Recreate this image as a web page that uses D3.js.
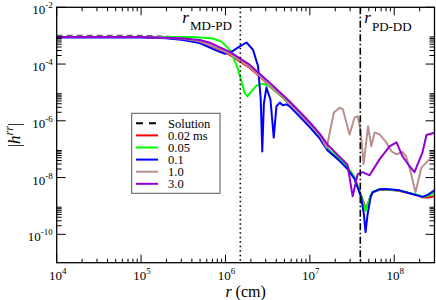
<!DOCTYPE html>
<html>
<head>
<meta charset="utf-8">
<script src="https://cdn.jsdelivr.net/npm/d3@7"></script>
<style>
  body { margin: 0; background: #fff; }
  svg text { font-family: "Liberation Serif", "Times New Roman", Times, serif; fill: #000; }
</style>
</head>
<body>
<script>
// values, as [log10 r (cm), log10 |h^rr|]
const solution = [[4, -2.99], [5.0, -2.99], [5.3, -3.02], [5.5, -3.08], [5.696, -3.19], [5.932, -3.48], [6.051, -3.66], [6.169, -3.90], [6.288, -4.13], [6.406, -4.43], [6.524, -4.78], [6.643, -5.07], [6.761, -5.42], [6.879, -5.77], [6.998, -6.16], [7.116, -6.54], [7.211, -6.98], [7.33, -7.29], [7.447, -7.63], [7.53, -7.99]];

const run002 = [[4, -3.05], [5.0, -3.05], [5.3, -3.08], [5.5, -3.12], [5.696, -3.22], [5.932, -3.50], [6.051, -3.674], [6.169, -3.909], [6.288, -4.14], [6.406, -4.435], [6.524, -4.786], [6.643, -5.077], [6.761, -5.43], [6.879, -5.78], [6.998, -6.17], [7.116, -6.55], [7.211, -7.0], [7.33, -7.3], [7.447, -7.64], [7.53, -8.0], [7.566, -8.3], [7.609, -8.65], [7.64, -8.9], [7.66, -9.1], [7.684, -8.95], [7.72, -8.65], [7.743, -8.52], [7.83, -8.43], [7.905, -8.43], [8.0, -8.45], [8.063, -8.47], [8.181, -8.55], [8.30, -8.64], [8.335, -8.69], [8.40, -8.70], [8.477, -8.66]];

const run005 = [[4, -3.05], [5.0, -3.05], [5.6, -3.05], [5.75, -3.07], [5.85, -3.10], [5.953, -3.21], [6.051, -3.50], [6.137, -4.08], [6.178, -4.48], [6.228, -5.02], [6.26, -5.14], [6.308, -4.96], [6.367, -4.76], [6.445, -4.69], [6.524, -4.79], [6.643, -5.07], [6.761, -5.42], [6.879, -5.77], [6.998, -6.16], [7.116, -6.54], [7.211, -6.99], [7.33, -7.29], [7.447, -7.63], [7.53, -7.99], [7.566, -8.29], [7.609, -8.64], [7.64, -8.95], [7.66, -9.18], [7.684, -8.95], [7.72, -8.63], [7.743, -8.50], [7.83, -8.42], [7.905, -8.42], [8.063, -8.46], [8.181, -8.54], [8.30, -8.63], [8.335, -8.68], [8.40, -8.64], [8.477, -8.55]];

const run01 = [[4, -3.06], [5.0, -3.06], [5.3, -3.09], [5.5, -3.15], [5.696, -3.26], [5.873, -3.50], [5.992, -3.64], [6.075, -3.56], [6.169, -3.38], [6.249, -3.24], [6.327, -3.50], [6.386, -4.08], [6.418, -5.25], [6.436, -7.08], [6.455, -5.4], [6.485, -4.83], [6.533, -5.25], [6.572, -6.59], [6.604, -5.49], [6.643, -5.36], [6.68, -5.45], [6.72, -5.42], [6.761, -5.49], [6.879, -5.85], [6.998, -6.22], [7.116, -6.62], [7.211, -7.05], [7.33, -7.35], [7.447, -7.70], [7.53, -8.05], [7.566, -8.35], [7.609, -8.7], [7.64, -9.3], [7.66, -9.92], [7.684, -9.3], [7.72, -8.7], [7.743, -8.52], [7.826, -8.41], [7.905, -8.40], [8.063, -8.45], [8.181, -8.55], [8.335, -8.68], [8.40, -8.60], [8.477, -8.45]];

const run10 = [[4, -3.05], [5.0, -3.05], [5.3, -3.07], [5.5, -3.11], [5.696, -3.20], [5.932, -3.47], [6.051, -3.64], [6.169, -3.88], [6.288, -4.11], [6.406, -4.41], [6.524, -4.76], [6.643, -5.05], [6.761, -5.40], [6.879, -5.75], [6.998, -6.12], [7.116, -6.50], [7.20, -6.95], [7.25, -6.2], [7.285, -5.71], [7.353, -5.54], [7.392, -5.60], [7.471, -6.48], [7.53, -5.88], [7.566, -5.84], [7.60, -6.3], [7.637, -7.53], [7.69, -6.19], [7.728, -6.90], [7.767, -6.41], [7.826, -6.48], [7.905, -6.76], [7.968, -7.08], [8.027, -7.18], [8.098, -7.10], [8.14, -7.25], [8.19, -7.75], [8.252, -8.52], [8.323, -7.64], [8.418, -7.36], [8.477, -7.25]];

const run30 = [[4, -3.05], [5.0, -3.05], [5.3, -3.07], [5.5, -3.10], [5.696, -3.15], [5.814, -3.25], [6.051, -3.57], [6.288, -4.03], [6.524, -4.66], [6.761, -5.32], [6.879, -5.68], [6.998, -6.05], [7.116, -6.45], [7.211, -6.85], [7.33, -7.2], [7.447, -7.55], [7.507, -8.66], [7.566, -7.88], [7.625, -7.81], [7.708, -7.92], [7.826, -7.36], [7.944, -6.90], [8.027, -6.76], [8.098, -7.25], [8.181, -7.6], [8.240, -7.81], [8.335, -7.11], [8.382, -6.50], [8.477, -6.42]];

const seriesNames = ["Solution", "0.02 ms", "0.05", "0.1", "1.0", "3.0"];
const seriesData = [solution, run002, run005, run01, run10, run30];
const seriesColors = ["#000000", "#ff0000", "#00ff00", "#0000ff", "#bc8f8f", "#9400d3"];

const xMajor = [1e4, 1e5, 1e6, 1e7, 1e8];
const xMajorExp = ["4", "5", "6", "7", "8"];
const yMajor = [1e-2, 1e-4, 1e-6, 1e-8, 1e-10];
const yMajorExp = ["-2", "-4", "-6", "-8", "-10"];

const rMDPD = 1.5e6;   // dotted line
const rPDDD = 3.96e7;  // dash-dot line

const W = 436, H = 300;
const plot = { left: 56.7, right: 434.5, top: 7.3, bottom: 262.7 };
const SERIF = "'Liberation Serif', 'Times New Roman', Times, serif";

const svg = d3.select("body").append("svg")
    .attr("width", W)
    .attr("height", H)
    .attr("font-family", SERIF)
    .style("font-family", SERIF);

const x = d3.scaleLog().domain([1e4, 3e8]).range([plot.left, plot.right]);
const y = d3.scaleLog().domain([1e-11, 1e-2]).range([plot.bottom, plot.top]);

// minor ticks: 2..9 times each major
const xMinor = [];
xMajor.forEach(m => { for (let k = 2; k <= 9; k++) if (m * k <= 3e8 * 1.0001) xMinor.push(m * k); });
const yMinor = [];
yMajor.slice(1).forEach(m => { for (let k = 2; k <= 9; k++) yMinor.push(m * k); });

svg.append("defs").append("clipPath").attr("id", "plotClip")
    .append("rect")
    .attr("x", plot.left).attr("y", plot.top)
    .attr("width", plot.right - plot.left).attr("height", plot.bottom - plot.top);

//******** CURVES */
const line = d3.line()
    .x(d => x(Math.pow(10, d[0])))
    .y(d => y(Math.pow(10, d[1])));

const curves_g = svg.append("g").attr("clip-path", "url(#plotClip)");

seriesData.forEach((data, i) => {
    curves_g.append("path")
        .datum(data)
        .attr("d", line)
        .attr("fill", "none")
        .attr("stroke", i == 0 ? "#666" : seriesColors[i])
        .attr("stroke-width", i == 0 ? 1.4 : 2)
        .attr("stroke-dasharray", i == 0 ? "6,4" : null)
        .attr("stroke-linejoin", "round");
});

//******** VERTICAL MARKERS */
svg.append("line")
    .attr("x1", x(rMDPD)).attr("x2", x(rMDPD))
    .attr("y1", plot.top).attr("y2", plot.bottom)
    .attr("stroke", "#000").attr("stroke-width", 1.6)
    .attr("stroke-dasharray", "1.5,3");

svg.append("line")
    .attr("x1", x(rPDDD)).attr("x2", x(rPDDD))
    .attr("y1", plot.top).attr("y2", plot.bottom)
    .attr("stroke", "#000").attr("stroke-width", 1.6)
    .attr("stroke-dasharray", "7,2.5,1.5,2.5");

const mdpd = svg.append("text").attr("x", x(rMDPD) - 58).attr("y", 23);
mdpd.append("tspan").attr("font-style", "italic").attr("font-size", 17).text("r");
mdpd.append("tspan").attr("font-size", 13).attr("dy", 7).attr("dx", 1).text("MD-PD");

const pddd = svg.append("text").attr("x", x(rPDDD) + 4).attr("y", 23);
pddd.append("tspan").attr("font-style", "italic").attr("font-size", 17).text("r");
pddd.append("tspan").attr("font-size", 13).attr("dy", 8).attr("dx", 1).text("PD-DD");

//******** AXES / TICKS */
const axis_g = svg.append("g").attr("stroke", "#000").attr("stroke-width", 1);

function ticksX(vals, len) {
    vals.forEach(v => {
        axis_g.append("line").attr("x1", x(v)).attr("x2", x(v))
            .attr("y1", plot.bottom).attr("y2", plot.bottom - len);
        axis_g.append("line").attr("x1", x(v)).attr("x2", x(v))
            .attr("y1", plot.top).attr("y2", plot.top + len);
    });
}
function ticksY(vals, len) {
    vals.forEach(v => {
        axis_g.append("line").attr("y1", y(v)).attr("y2", y(v))
            .attr("x1", plot.left).attr("x2", plot.left + len);
        axis_g.append("line").attr("y1", y(v)).attr("y2", y(v))
            .attr("x1", plot.right).attr("x2", plot.right - len);
    });
}
ticksX(xMajor, 8);
ticksX(xMinor, 4);
ticksY(yMajor, 9);
ticksY(yMinor, 5);

svg.append("rect")
    .attr("x", plot.left).attr("y", plot.top)
    .attr("width", plot.right - plot.left).attr("height", plot.bottom - plot.top)
    .attr("fill", "none").attr("stroke", "#000").attr("stroke-width", 1.3);

// tick labels 10^n
xMajor.forEach((v, i) => {
    const t = svg.append("text")
        .attr("x", x(v) + 1).attr("y", plot.bottom + 17.5)
        .attr("text-anchor", "middle").attr("font-size", 13);
    t.append("tspan").text("10");
    t.append("tspan").attr("font-size", 9).attr("dy", -6).text(xMajorExp[i]);
});

yMajor.forEach((v, i) => {
    const t = svg.append("text")
        .attr("x", plot.left - 4).attr("y", y(v) + 7)
        .attr("text-anchor", "end").attr("font-size", 13);
    t.append("tspan").text("10");
    t.append("tspan").attr("font-size", 9).attr("dy", -6).text(yMajorExp[i]);
});

// axis titles
const xt = svg.append("text")
    .attr("x", (plot.left + plot.right) / 2).attr("y", 296.5)
    .attr("text-anchor", "middle").attr("font-size", 16);
xt.append("tspan").attr("font-style", "italic").text("r");
xt.append("tspan").text(" (cm)");

const yt = svg.append("text")
    .attr("transform", "translate(20," + ((plot.top + plot.bottom) / 2) + ") rotate(-90)")
    .attr("text-anchor", "middle").attr("font-size", 17);
yt.append("tspan").text("|");
yt.append("tspan").attr("font-style", "italic").text("h");
yt.append("tspan").attr("font-style", "italic").attr("font-size", 12).attr("dy", -7).text("rr");
yt.append("tspan").attr("dy", 7).text("|");

//******** LEGEND */
const legend_g = svg.append("g");
legend_g.append("rect")
    .attr("x", 131.7).attr("y", 113.3)
    .attr("width", 88.3).attr("height", 80)
    .attr("fill", "#fff").attr("stroke", "#555").attr("stroke-width", 1);

seriesNames.forEach((name, i) => {
    const cy = 123.3 + i * 12.1;
    legend_g.append("line")
        .attr("x1", 136).attr("x2", 158)
        .attr("y1", cy).attr("y2", cy)
        .attr("stroke", seriesColors[i])
        .attr("stroke-width", 2)
        .attr("stroke-dasharray", i == 0 ? "7,6" : null);
    legend_g.append("text")
        .attr("x", 168).attr("y", cy + 4.5)
        .attr("font-size", 12.5)
        .text(name);
});
</script>
</body>
</html>
